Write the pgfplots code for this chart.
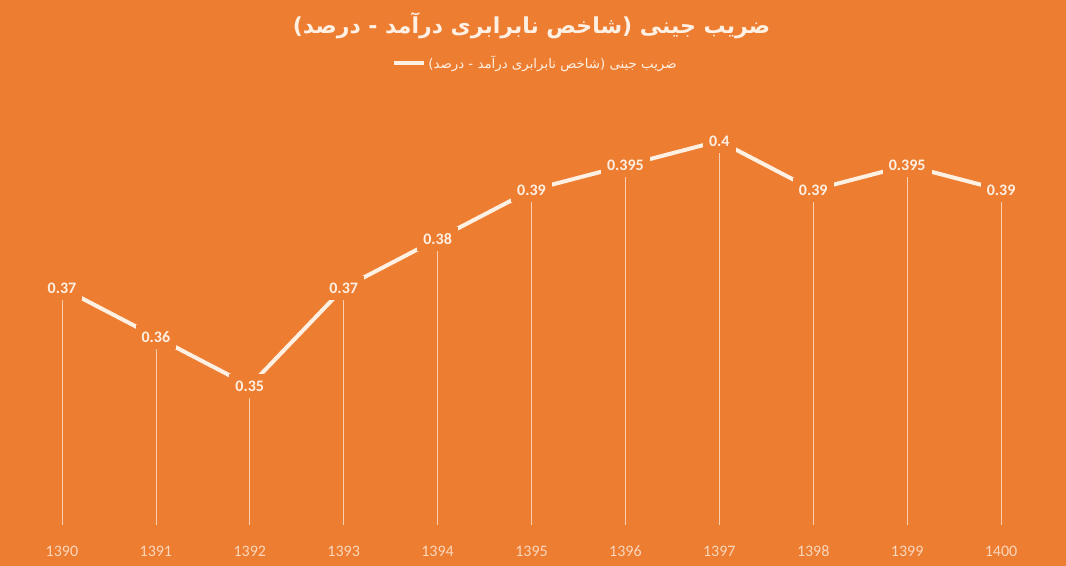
\documentclass[border=0pt]{standalone}
\usepackage{fontspec}
\usepackage{pgfplots}
\usepackage{pgfplotstable}
\pgfplotsset{compat=1.18}
\usetikzlibrary{backgrounds}
\setmainfont{Carlito}
\newfontfamily\arabicfont[Script=Arabic]{DejaVu Sans}
\TeXXeTstate=1
\definecolor{bg}{HTML}{ED7D31}
\definecolor{txt}{HTML}{FFF0E4}
\definecolor{ticktxt}{HTML}{FAD7BD}
\definecolor{drop}{HTML}{F9CFB0}
\pgfplotstableread{
x y lab
1390 0.37 0.37
1391 0.36 0.36
1392 0.35 0.35
1393 0.37 0.37
1394 0.38 0.38
1395 0.39 0.39
1396 0.395 0.395
1397 0.4 0.4
1398 0.39 0.39
1399 0.395 0.395
1400 0.39 0.39
}\gini
\begin{document}
\begin{tikzpicture}
\begin{axis}[name=ax, scale only axis,
  width=774.75pt, height=324.75pt,
  xmin=1389.5, xmax=1400.5, ymin=0.3216, ymax=0.41,
  axis line style={draw=none},
  ytick=\empty,
  xtick={1390,1391,1392,1393,1394,1395,1396,1397,1398,1399,1400},
  xticklabels={1390,1391,1392,1393,1394,1395,1396,1397,1398,1399,1400},
  xtick style={draw=none},
  xticklabel style={anchor=center, yshift=-19.5pt, text=ticktxt, font=\fontsize{12}{14}\selectfont},
  title={\arabicfont\bfseries\beginR ضریب جینی (شاخص نابرابری درآمد - درصد)\endR},
  title style={at={(0.5,1)}, anchor=center, yshift=43.5pt, text=txt, font=\fontsize{16.5}{20}\selectfont},
  legend style={at={(0.5,1)}, anchor=center, yshift=21.75pt, xshift=3pt, draw=none, fill=none, text=txt, font=\fontsize{10}{12}\selectfont, inner sep=0pt},
  legend image code/.code={\draw[#1] (0pt,0pt) -- (22.5pt,0pt);},
]
\addplot[ycomb, drop, line width=0.5pt, forget plot] table[x=x,y=y] {\gini};
\addplot[color=txt, line width=3pt, mark=none] table[x=x,y=y] {\gini};
\addlegendentry{\arabicfont\beginR ضریب جینی (شاخص نابرابری درآمد - درصد)\endR}
\addplot[draw=none, mark=none, forget plot, point meta=explicit symbolic,
  nodes near coords,
  nodes near coords style={anchor=center, font=\bfseries\fontsize{12}{14}\selectfont, text=txt, fill=bg, inner xsep=4.5pt, inner ysep=5pt}]
  table[x=x,y=y,meta=lab] {\gini};
\end{axis}
\begin{scope}[on background layer]
\fill[bg] ([shift={(-11.25pt,-30.75pt)}]ax.south west) rectangle ++(799.5pt,424.5pt);
\end{scope}
\end{tikzpicture}
\end{document}
